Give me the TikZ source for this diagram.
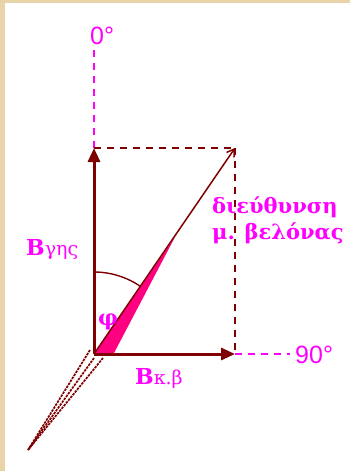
\documentclass[tikz,border=0pt]{standalone}
\usepackage{fontspec}
\setmainfont{DejaVu Serif}
\newfontfamily\degfont{Liberation Sans}
\usetikzlibrary{arrows.meta}
\definecolor{maroonc}{HTML}{7F0000}
\definecolor{magc}{HTML}{FF00FF}
\definecolor{pinkc}{HTML}{FF0080}
\definecolor{tanc}{HTML}{E9D3A8}
\begin{document}
\begin{tikzpicture}[x=1pt,y=-1pt,
  vecline/.style={draw=maroonc,line width=3pt,-{Triangle[length=14pt,width=12pt]}},
  guide/.style={draw=maroonc,line width=1.5pt,dash pattern=on 7pt off 6pt},
  axisdash/.style={draw=magc,line width=1.3pt,dash pattern=on 7pt off 6pt},
  legline/.style={draw=maroonc,line width=1.7pt,dash pattern=on 2.5pt off 1pt},
  lab/.style={text=magc,inner sep=0pt},
  deg/.style={lab,font=\degfont\fontsize{25}{28}\selectfont}]
\fill[tanc] (0,0) rectangle (350,471);
\fill[white] (5,3) rectangle (350,471);
\useasboundingbox (0,0) rectangle (350,471);
% points
\coordinate (O) at (94,354);
\coordinate (T) at (94,148);
\coordinate (R) at (235,354);
\coordinate (D) at (235,148);
\coordinate (Z) at (94,50);
\coordinate (N) at (290,354);
\coordinate (L1) at (90,350);
\coordinate (L2) at (94,358);
\coordinate (L3) at (103,358);
\coordinate (F) at (28,450);
% legs
\draw[legline] (L1) -- (F);
\draw[legline] (L2) -- (F);
\draw[legline] (L3) -- (F);
% magenta axis dashes
\draw[axisdash] (T) -- (Z);
\draw[axisdash] (R) -- (N);
% guide rectangle
\draw[guide] (T) -- (D);
\draw[guide] (D) -- (R);
% needle
\fill[pinkc] (95,353) -- (114,353) -- (175,237) -- cycle;
\draw[maroonc,line width=1.5pt,-{Straight Barb[length=7pt,width=9pt]}] (O) -- (D);
% angle arc
\draw[maroonc,line width=1.4pt] plot[domain=-90:-55.6,samples=30] ({94+82*cos(\x)},{354+82*sin(\x)});
% vectors
\draw[vecline] (O) -- (T);
\draw[vecline] (O) -- (R);
% labels
\node[deg,anchor=west] (zero) at (90,36) {0°};
\node[deg,anchor=west] (ninety) at (295,355) {90°};
\node[lab,anchor=base west] (bg) at (26,255) {\fontsize{22}{24}\selectfont\bfseries B\fontsize{19}{21}\selectfont\mdseries γης};
\node[lab,anchor=base west] (bk) at (135,384) {\fontsize{22}{24}\selectfont\bfseries B\fontsize{19}{21}\selectfont\mdseries κ.β};
\node[lab,anchor=center] (phi) at (108,322) {\fontsize{22}{24}\selectfont\bfseries φ};
\node[lab,anchor=base west,font=\fontsize{21}{24}\selectfont\bfseries] (dir1) at (212,213) {διεύθυνση};
\node[lab,anchor=base west,font=\fontsize{21}{24}\selectfont\bfseries] (dir2) at (212,239) {μ. βελόνας};
\end{tikzpicture}
\end{document}
